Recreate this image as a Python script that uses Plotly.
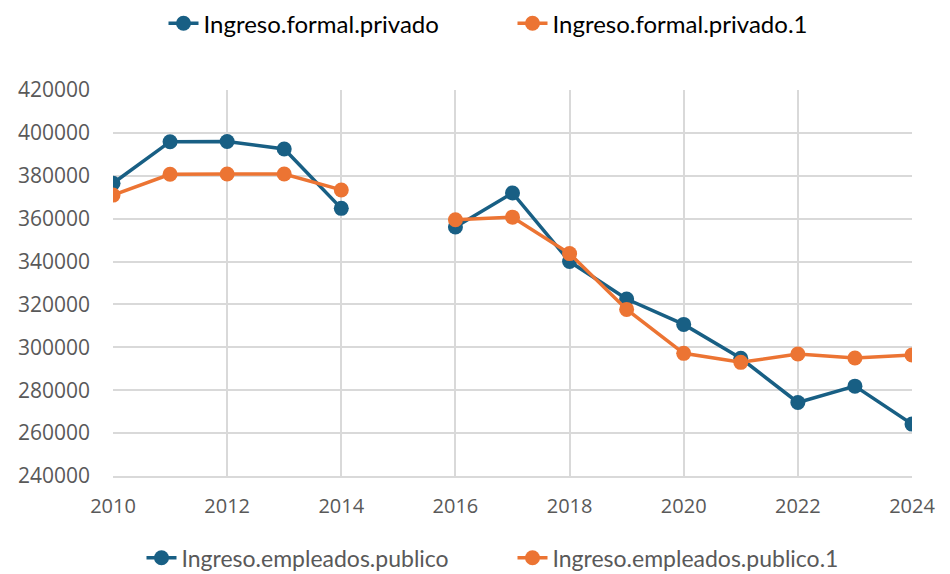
import plotly.graph_objects as go

years = list(range(2010, 2025))

# 2015 is missing in both series
formal_privado = [376500, 395900, 396000, 392500, 364800, None, 356100, 372000,
                  340000, 322500, 310700, 294900, 274300, 281900, 264200]
formal_privado_1 = [371000, 380700, 380800, 380800, 373400, None, 359500, 360700,
                    343700, 317700, 297200, 293000, 296900, 295000, 296400]

# series listed in the second legend, without points
empleados_publico = [None]
empleados_publico_1 = [None]

BLUE = "#185F84"
ORANGE = "#EC7433"
GRID = "#D9D9D9"
TICK = "#595959"

fig = go.Figure()

fig.add_trace(go.Scatter(x=years, y=formal_privado, name="Ingreso.formal.privado",
                         mode="lines+markers", connectgaps=False,
                         line=dict(color=BLUE, width=3.5),
                         marker=dict(color=BLUE, size=15), legend="legend"))
fig.add_trace(go.Scatter(x=years, y=formal_privado_1, name="Ingreso.formal.privado.1",
                         mode="lines+markers", connectgaps=False,
                         line=dict(color=ORANGE, width=3.5),
                         marker=dict(color=ORANGE, size=15), legend="legend"))
fig.add_trace(go.Scatter(x=empleados_publico, y=empleados_publico, name="Ingreso.empleados.publico",
                         mode="lines+markers", showlegend=True,
                         line=dict(color=BLUE, width=3.5),
                         marker=dict(color=BLUE, size=15), legend="legend2"))
fig.add_trace(go.Scatter(x=empleados_publico_1, y=empleados_publico_1, name="Ingreso.empleados.publico.1",
                         mode="lines+markers", showlegend=True,
                         line=dict(color=ORANGE, width=3.5),
                         marker=dict(color=ORANGE, size=15), legend="legend2"))

# page body has an 8px margin, so the margins are shifted by that much
fig.update_layout(
    width=950, height=574,
    margin=dict(l=105, r=46, t=82, b=106, autoexpand=False),
    paper_bgcolor="white", plot_bgcolor="white",
    font=dict(family="Open Sans", color=TICK),
    showlegend=True,
    legend=dict(orientation="h", x=0.5, xanchor="center", y=1.172, yanchor="middle",
                font=dict(family="Lato", size=24, color="#000000"),
                entrywidth=304, bgcolor="rgba(0,0,0,0)"),
    legend2=dict(orientation="h", x=0.5, xanchor="center", y=-0.212, yanchor="middle",
                 font=dict(family="Lato", size=23, color=TICK),
                 entrywidth=326, bgcolor="rgba(0,0,0,0)"),
    xaxis=dict(range=[2010, 2024], tickmode="linear", tick0=2010, dtick=2,
               showgrid=True, gridcolor=GRID, gridwidth=1.5,
               showline=True, linecolor=GRID, linewidth=1.5,
               zeroline=False, ticks="", ticklabelstandoff=11,
               tickfont=dict(family="Open Sans", size=20, color=TICK)),
    yaxis=dict(range=[240000, 420000], tickmode="linear", tick0=240000, dtick=20000,
               showgrid=True, gridcolor=GRID, gridwidth=1.5,
               zeroline=False, showline=False, ticks="", ticklabelstandoff=22,
               tickformat="d",
               tickfont=dict(family="Open Sans", size=21, color=TICK)),
)

fig.write_html("out.html")
